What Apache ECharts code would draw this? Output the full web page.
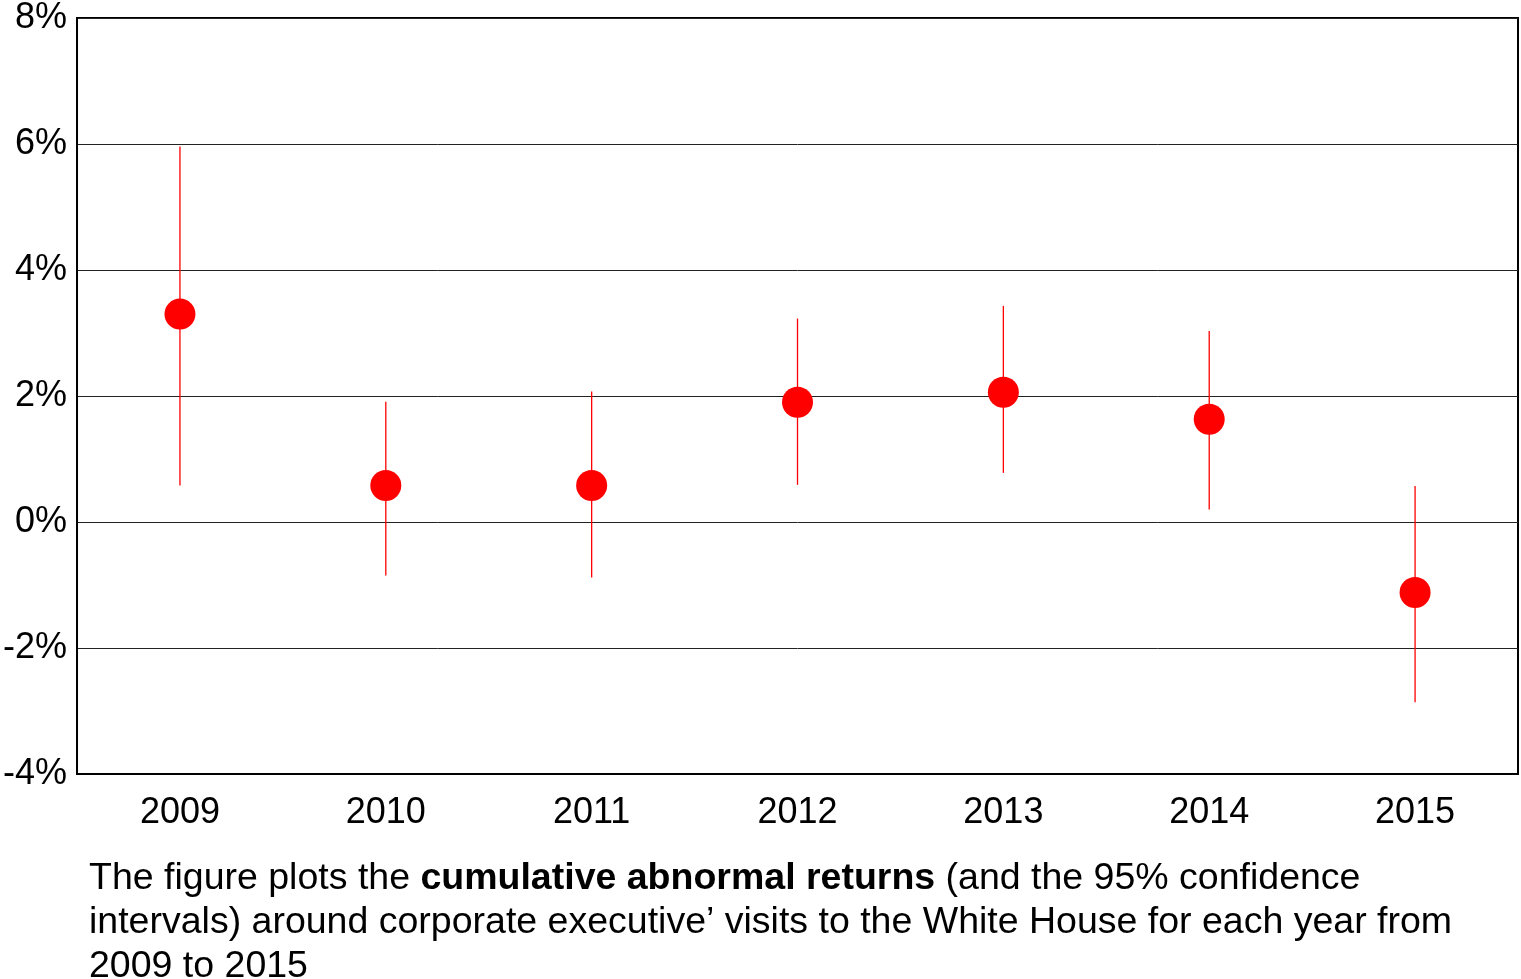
<!DOCTYPE html>
<html>
<head>
<meta charset="utf-8">
<script src="https://cdn.jsdelivr.net/npm/echarts@6/dist/echarts.min.js"></script>
<style>
html,body{margin:0;padding:0;background:#fff;}
#chart{width:1521px;height:979px;}
</style>
</head>
<body>
<div id="chart"></div>
<script>
const years = ['2009','2010','2011','2012','2013','2014','2015'];
const car = [3.30, 0.58, 0.58, 1.90, 2.06, 1.63, -1.12];
const ciLow = [0.58, -0.85, -0.88, 0.59, 0.78, 0.20, -2.86];
const ciHigh = [5.96, 1.91, 2.07, 3.23, 3.43, 3.03, 0.57];
const yTicks = [-4, -2, 0, 2, 4, 6, 8];

const errData = years.map((y, i) => [i, ciLow[i], ciHigh[i]]);
const FONT = '"Liberation Sans", Arial, sans-serif';

const chart = echarts.init(document.getElementById('chart'));
chart.setOption({
  backgroundColor: '#fff',
  animation: false,
  title: {
    left: 84,
    top: 852,
    text: 'The figure plots the {b|cumulative abnormal returns} (and the 95% confidence\nintervals) around corporate executive’ visits to the White House for each year from\n2009 to 2015',
    textStyle: {
      fontFamily: FONT, fontSize: 37.5, fontWeight: 'normal', color: '#000', lineHeight: 44,
      rich: { b: { fontFamily: FONT, fontSize: 37.5, fontWeight: 'bold', color: '#000', lineHeight: 44 } }
    }
  },
  grid: { left: 76, right: 3, top: 15, bottom: 205, show: true, borderColor: '#000', borderWidth: 2 },
  xAxis: {
    type: 'category',
    data: years,
    boundaryGap: true,
    axisLine: { show: true, onZero: false, lineStyle: { color: '#000', width: 2 } },
    axisTick: { show: false },
    axisLabel: { color: '#000', fontFamily: FONT, fontSize: 36, margin: 21 },
    splitLine: { show: false }
  },
  yAxis: {
    type: 'value',
    min: yTicks[0],
    max: yTicks[yTicks.length - 1],
    interval: 2,
    axisLine: { show: true, lineStyle: { color: '#000', width: 2 } },
    axisTick: { show: false },
    axisLabel: { color: '#000', fontFamily: FONT, fontSize: 36, margin: 10, formatter: v => v + '%' },
    splitLine: { show: true, lineStyle: { color: '#222', width: 1 } }
  },
  series: [
    {
      type: 'custom',
      data: errData,
      z: 2,
      renderItem: function (params, api) {
        const x = api.value(0);
        const lo = api.coord([x, api.value(1)]);
        const hi = api.coord([x, api.value(2)]);
        return {
          type: 'line',
          shape: { x1: lo[0], y1: lo[1], x2: hi[0], y2: hi[1] },
          style: { stroke: '#ff0000', lineWidth: 1.3 }
        };
      }
    },
    {
      type: 'scatter',
      data: car,
      z: 3,
      symbol: 'circle',
      symbolSize: 31,
      itemStyle: { color: '#ff0000', opacity: 1 }
    }
  ]
});
</script>
</body>
</html>
